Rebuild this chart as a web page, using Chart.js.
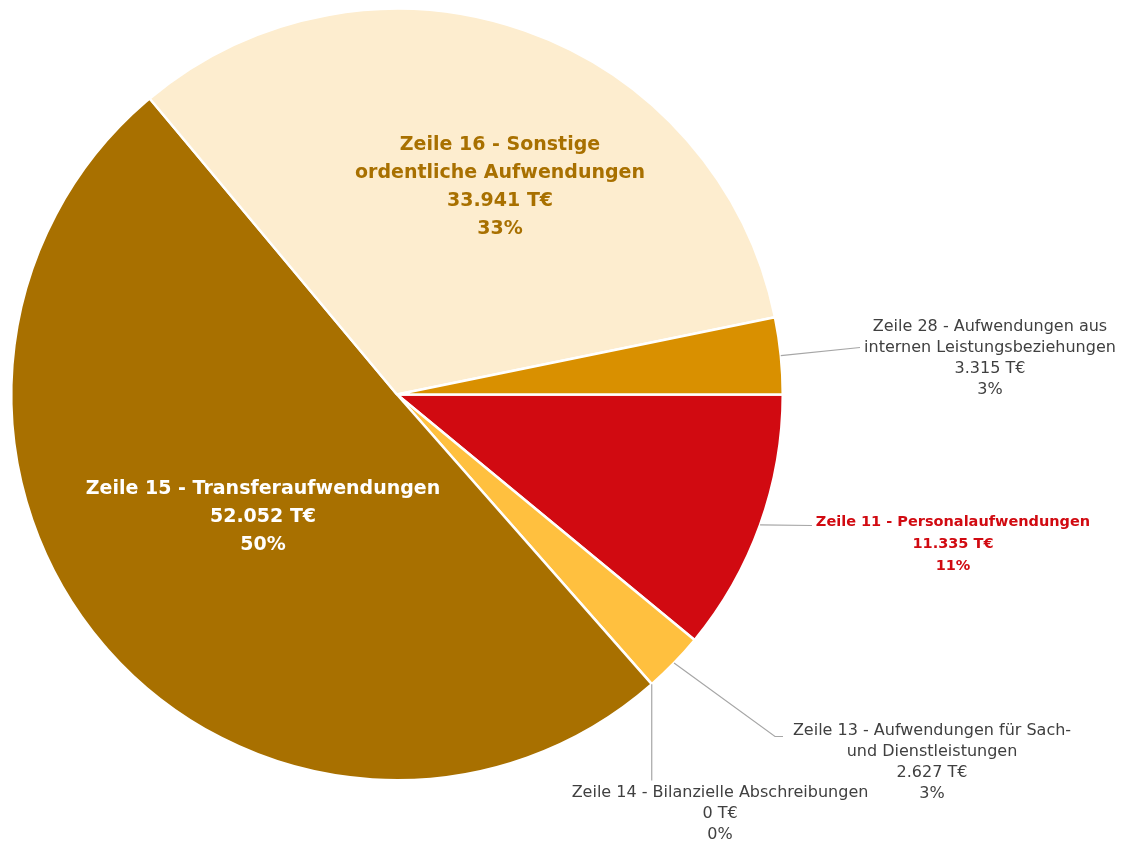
<!DOCTYPE html>
<html lang="de">
<head>
<meta charset="UTF-8">
<title>Aufwendungen</title>
<style>
  html, body { margin: 0; padding: 0; background: #fff; }
  #wrap { width: 1122px; height: 843px; }
</style>
</head>
<body>
<div id="wrap"><canvas id="pie" width="1122" height="843"></canvas></div>
<script src="https://cdn.jsdelivr.net/npm/chart.js"></script>
<script>
// Daten
const labels = [
  ['Zeile 11 - Personalaufwendungen'],
  ['Zeile 13 - Aufwendungen für Sach-', 'und Dienstleistungen'],
  ['Zeile 14 - Bilanzielle Abschreibungen'],
  ['Zeile 15 - Transferaufwendungen'],
  ['Zeile 16 - Sonstige', 'ordentliche Aufwendungen'],
  ['Zeile 28 - Aufwendungen aus', 'internen Leistungsbeziehungen']
];
const values = [11335, 2627, 0, 52052, 33941, 3315];
const colors = ['#D10A11', '#FFC03F', '#E8A33A', '#A87000', '#FDEDCF', '#D99000'];

// Beschriftung: innen oder außen, Textfarbe, Position der Beschriftung relativ zur Mitte
const labelStyle = [
  { inside: false, color: '#D10A11', bold: true,  dx: 556, dy: 128, elbowX: 415 },
  { inside: false, color: '#404040', bold: false, dx: 535, dy: 336, elbowX: 378, elbowY: 342 },
  { inside: false, color: '#404040', bold: false, dx: 323, dy: 398, vertical: true },
  { inside: true,  color: '#FFFFFF', bold: true,  dx: -134, dy: 95 },
  { inside: true,  color: '#A87000', bold: true,  dx: 103, dy: -249 },
  { inside: false, color: '#404040', bold: false, dx: 593, dy: -68, elbowX: 463 }
];

const fmt = v => v.toLocaleString('de-DE') + ' T€';
const total = values.reduce((a, b) => a + b, 0);
const pct = v => Math.round(v / total * 100) + '%';

const FONT = '"DejaVu Sans", sans-serif';

const labelPlugin = {
  id: 'pieLabels',
  afterDatasetsDraw(chart) {
    const ctx = chart.ctx;
    const arcs = chart.getDatasetMeta(0).data;
    arcs.forEach((arc, i) => {
      const st = labelStyle[i];
      const cx = arc.x, cy = arc.y;
      const mid = (arc.startAngle + arc.endAngle) / 2;
      const lines = labels[i].concat([fmt(values[i]), pct(values[i])]);
      const tx = cx + st.dx, ty = cy + st.dy;
      ctx.save();
      if (st.inside) {
        ctx.font = 'bold 19px ' + FONT;
        ctx.fillStyle = st.color;
        ctx.textAlign = 'center';
        ctx.textBaseline = 'middle';
        lines.forEach((l, k) => ctx.fillText(l, tx, ty + k * 28));
      } else {
        const r = arc.outerRadius;
        const px = cx + Math.cos(mid) * r, py = cy + Math.sin(mid) * r;
        ctx.strokeStyle = '#A6A6A6';
        ctx.lineWidth = 1.2;
        ctx.beginPath();
        ctx.moveTo(px, py);
        if (st.vertical) {
          ctx.lineTo(px, ty - 12);
        } else if (st.elbowY !== undefined) {
          ctx.lineTo(cx + st.elbowX, cy + st.elbowY);
          ctx.lineTo(cx + st.elbowX + 8, cy + st.elbowY);
        } else {
          ctx.lineTo(cx + st.elbowX, ty + (i === 5 ? 21 : 3));
        }
        ctx.stroke();
        ctx.font = st.bold ? 'bold 14.5px ' + FONT : '16px ' + FONT;
        ctx.fillStyle = st.color;
        ctx.textAlign = 'center';
        ctx.textBaseline = 'middle';
        const lh = st.bold ? 22 : 21;
        lines.forEach((l, k) => ctx.fillText(l, tx, ty + k * lh));
      }
      ctx.restore();
    });
  }
};

new Chart(document.getElementById('pie'), {
  type: 'pie',
  data: {
    labels: labels.map(l => l.join(' ')),
    datasets: [{
      data: values,
      backgroundColor: colors,
      borderColor: '#FFFFFF',
      borderWidth: 2.5
    }]
  },
  options: {
    responsive: false,
    animation: false,
    rotation: 90,
    layout: { padding: { left: 10, right: 338, top: 6, bottom: 60 } },
    plugins: {
      legend: { display: false },
      tooltip: { enabled: false }
    }
  },
  plugins: [labelPlugin]
});
</script>
</body>
</html>
